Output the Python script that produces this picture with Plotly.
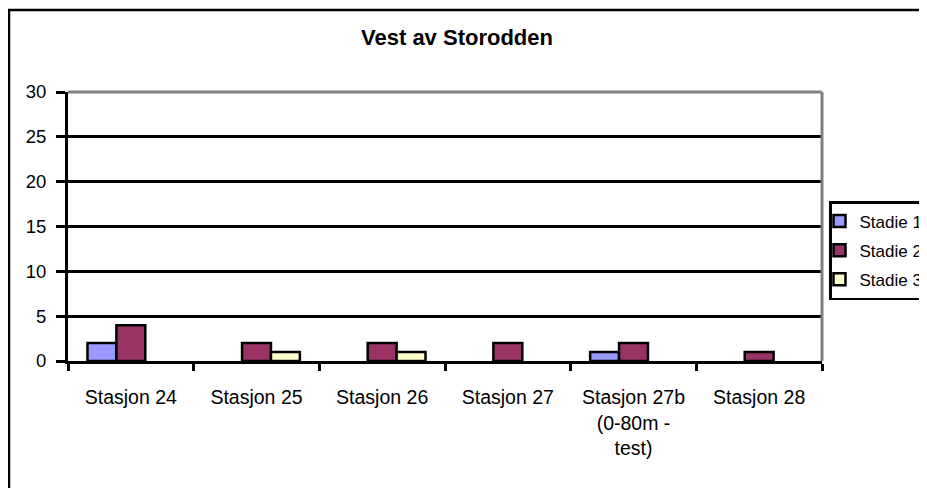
import plotly.graph_objects as go

categories = ["Stasjon 24", "Stasjon 25", "Stasjon 26", "Stasjon 27",
              "Stasjon 27b<br>(0-80m -<br>test)", "Stasjon 28"]
stadie1 = [2, 0, 0, 0, 1, 0]
stadie2 = [4, 2, 2, 2, 2, 1]
stadie3 = [0, 1, 1, 0, 0, 0]
series_names = ["Stadie 1", "Stadie 2", "Stadie 3"]
colors = ["#9999FF", "#993366", "#FFFFCC"]
y_ticks = [0, 5, 10, 15, 20, 25, 30]

# the page body adds an 8px margin around the figure
OFF = 8
W, H = 927 - OFF, 488 - OFF
# plot area in page pixels: x 68..822, y 92..361
L, R, T, B = 68 - OFF, 927 - 822, 92 - OFF, 488 - 361
pw, ph = W - L - R, H - T - B

def px(x):  # page x -> paper fraction
    return (x - OFF - L) / pw

def py(y):  # page y -> paper fraction
    return (H - B - (y - OFF)) / ph

fig = go.Figure()
for name, vals, c in zip(series_names, [stadie1, stadie2, stadie3], colors):
    # zero-height bars are not drawn in the original chart
    fig.add_trace(go.Bar(x=categories, y=[v if v else None for v in vals], name=name,
                         legendgroup=name,
                         marker=dict(color=c, line=dict(color="black", width=2.5))))

font_family = "Arial, Liberation Sans, sans-serif"
fig.update_layout(
    width=W, height=H,
    margin=dict(l=L, r=R, t=T, b=B, autoexpand=False),
    paper_bgcolor="white", plot_bgcolor="white",
    font=dict(family=font_family, size=19.5, color="black"),
    title=dict(text="<b>Vest av Storodden</b>", x=(457 - OFF) / W, xanchor="center",
               xref="container",
               y=1 - (37 - OFF) / H, yanchor="middle", yref="container",
               font=dict(size=22, color="black")),
    barmode="group", bargap=0.31, bargroupgap=0,
    showlegend=True,
    legend=dict(x=px(829), y=py(201), xanchor="left", yanchor="top",
                bordercolor="black", borderwidth=2.5, bgcolor="white",
                font=dict(size=17), tracegroupgap=4, itemwidth=30,
                indentation=-12),
    xaxis=dict(showline=True, linecolor="black", linewidth=3,
               ticks="outside", tickson="boundaries", ticklen=7, tickwidth=3,
               tickcolor="black", showgrid=False, ticklabelstandoff=17,
               automargin=False),
    yaxis=dict(range=[0, 30], tickvals=y_ticks, showline=True, linecolor="black",
               linewidth=3, ticks="outside", ticklen=9, tickwidth=3,
               tickcolor="black", showgrid=True, gridcolor="black", gridwidth=3,
               zeroline=False, ticklabelstandoff=6, automargin=False,
               tickfont=dict(size=18.5)),
    shapes=[
        dict(type="line", xref="paper", yref="paper", x0=0, x1=1, y0=1, y1=1,
             line=dict(color="#808080", width=3), layer="above"),
        dict(type="line", xref="paper", yref="paper", x0=1, x1=1, y0=0, y1=1,
             line=dict(color="#808080", width=3), layer="above"),
        dict(type="rect", xref="paper", yref="paper", x0=px(9), x1=px(1000),
             y0=py(560), y1=py(10), line=dict(color="black", width=2.5),
             layer="below"),
    ],
)

fig.write_html("out.html")
